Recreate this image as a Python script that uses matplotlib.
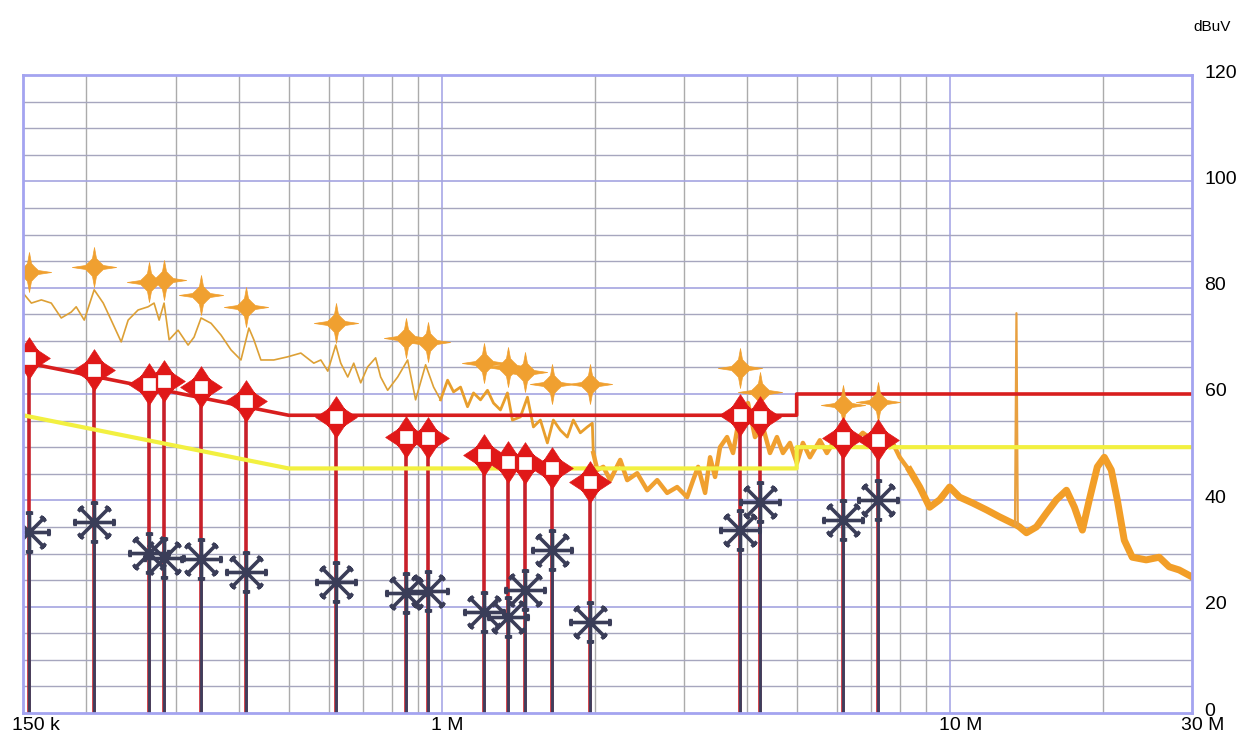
import numpy as np
import matplotlib
matplotlib.use("Agg")
import matplotlib.pyplot as plt
from matplotlib.path import Path
from matplotlib.ticker import NullLocator
from matplotlib.transforms import ScaledTranslation

plt.rcParams['font.family'] = ['Liberation Sans', 'DejaVu Sans']

# traço medido (frequência em MHz, nível em dBuV)
freq_trace = [
    0.150, 0.1558, 0.1630, 0.1705, 0.1784, 0.1866, 0.1909, 0.1980, 0.2071, 0.2158,
    0.2237, 0.2341, 0.2416, 0.2527, 0.2644, 0.2717, 0.2780, 0.2843, 0.2909, 0.3029,
    0.3170, 0.3257, 0.3362, 0.3518, 0.3679, 0.3850, 0.4028, 0.4176, 0.4271, 0.4409,
    0.4675, 0.4982, 0.5284, 0.5604, 0.5785, 0.5971, 0.6190, 0.6332, 0.6536, 0.6716,
    0.6932, 0.7154, 0.7416, 0.7587, 0.7832, 0.8196, 0.8574, 0.8889, 0.9302, 0.9645,
    0.9954, 1.0276, 1.0558, 1.0898, 1.1249, 1.1558, 1.1930, 1.2313, 1.2652, 1.3058,
    1.3479, 1.3787, 1.4295, 1.4757, 1.5161, 1.5649, 1.6153, 1.6596, 1.7131, 1.7682,
    1.8168, 1.8755, 1.9357, 1.9802, 1.9891, 2.0255, 2.0813, 2.1478, 2.2473, 2.3195,
    2.4270, 2.5394, 2.6573, 2.7797, 2.9087, 3.0432, 3.1270, 3.1984, 3.3015, 3.3769,
    3.4540, 3.5329, 3.6470, 3.7475, 3.8675, 4.0098, 4.1392, 4.2915, 4.4300, 4.5722,
    4.6980, 4.8500, 5.0050, 5.1430, 5.3088, 5.5545, 5.7328, 5.9979, 6.1631, 6.4475,
    6.7464, 7.0583, 7.2862, 7.6227, 7.7268, 7.9761, 8.2320, 8.3447, 8.7316, 9.1353,
    9.5589, 10.000, 10.462, 11.097, 11.822, 12.537, 13.297, 13.450, 13.538, 13.620,
    13.723, 14.166, 14.821, 15.508, 16.225, 16.982, 17.607, 18.255, 18.836, 19.534,
    20.160, 20.809, 21.383, 22.070, 22.884, 24.380, 25.857, 27.053, 28.308, 30.000,
]
level_trace = [
    79.0, 77.1, 77.7, 77.1, 74.3, 75.4, 76.4, 73.9, 79.6, 77.1,
    73.9, 69.8, 73.9, 75.8, 76.4, 77.1, 73.9, 77.1, 70.2, 72.0,
    69.2, 70.7, 74.3, 73.3, 71.1, 68.3, 66.4, 72.4, 70.2, 66.4,
    66.4, 67.0, 67.7, 65.8, 66.4, 64.3, 69.2, 65.8, 63.2, 65.8,
    62.1, 65.1, 66.8, 63.2, 60.7, 63.2, 66.4, 58.9, 65.5, 61.3,
    58.9, 62.6, 60.4, 61.3, 57.6, 60.2, 58.9, 60.7, 58.3, 57.0,
    60.2, 55.1, 55.7, 59.4, 53.8, 55.1, 50.8, 55.1, 53.2, 51.9,
    55.1, 52.7, 53.8, 54.5, 48.9, 45.7, 46.3, 43.8, 47.6, 43.8,
    45.1, 41.9, 43.8, 41.4, 42.5, 40.6, 43.8, 46.3, 41.4, 48.1,
    44.4, 50.0, 51.9, 48.9, 56.4, 58.3, 51.9, 53.8, 48.9, 51.9,
    48.9, 50.8, 47.0, 50.8, 48.1, 51.3, 48.9, 51.9, 53.2, 50.8,
    52.7, 51.3, 53.2, 50.0, 50.8, 48.1, 46.3, 45.7, 42.5, 38.7,
    40.1, 42.5, 40.6, 39.5, 38.2, 36.9, 35.7, 35.5, 75.2, 35.2,
    35.0, 33.9, 35.0, 37.6, 40.1, 41.9, 38.7, 34.4, 40.1, 46.3,
    48.1, 45.7, 40.1, 32.5, 29.3, 28.8, 29.3, 27.5, 26.9, 25.6,
]

# linhas limite
lim_freq = [0.15, 0.5, 5.0, 5.0, 30.0]
lim_qp = [66, 56, 56, 60, 60]
lim_av = [56, 46, 46, 50, 50]

# marcadores (pico, quase-pico, média)
freq_mk = [0.154, 0.207, 0.266, 0.284, 0.336, 0.412, 0.619, 0.850, 0.939,
           1.21, 1.35, 1.46, 1.65, 1.96, 3.87, 4.23, 6.16, 7.22]
peak_mk = [82.9, 83.9, 81.1, 81.4, 78.6, 76.4, 73.3, 70.5, 69.8,
           65.8, 65.1, 64.1, 61.9, 61.9, 64.9, 60.4, 57.9, 58.5]
qp_mk = [66.8, 64.6, 61.8, 62.5, 61.3, 58.6, 55.7, 51.9, 51.7,
         48.5, 47.2, 47.0, 46.1, 43.4, 56.0, 55.7, 51.7, 51.3]
av_mk = [34.0, 35.9, 30.1, 29.2, 29.0, 26.5, 24.6, 22.5, 23.0,
         19.0, 18.1, 23.1, 30.7, 17.1, 34.4, 39.7, 36.3, 40.1]

x_ticks = [0.15, 1, 10, 30]
x_labels = ["150 k", "1 M", "10 M", "30 M"]
y_ticks = [0, 20, 40, 60, 80, 100, 120]


# marcador estrela de 4 pontas
def star4():
    v = [(0, 0.9), (0.09, 0.4), (0.24, 0.24), (0.4, 0.09), (1, 0),
         (0.4, -0.09), (0.24, -0.24), (0.09, -0.4), (0, -0.9),
         (-0.09, -0.4), (-0.24, -0.24), (-0.4, -0.09), (-1, 0),
         (-0.4, 0.09), (-0.24, 0.24), (-0.09, 0.4), (0, 0.9)]
    return Path(v, closed=True)


# setas + quadrado do marcador de quase-pico
def arrows4():
    verts, codes = [], []
    for ang in [0, 90, 180, 270]:
        a = np.radians(ang)
        c, s = np.cos(a), np.sin(a)
        pts = [(1, 0), (0.36, 0.42), (0.36, -0.42), (1, 0)]
        for k, (px, py) in enumerate(pts):
            verts.append((px * c - py * s, px * s + py * c))
            codes.append(Path.MOVETO if k == 0 else (Path.CLOSEPOLY if k == 3 else Path.LINETO))
    sq = [(-0.4, -0.4), (0.4, -0.4), (0.4, 0.4), (-0.4, 0.4), (-0.4, -0.4)]
    verts += sq
    codes += [Path.MOVETO, Path.LINETO, Path.LINETO, Path.LINETO, Path.CLOSEPOLY]
    return Path(verts, codes)


# asterisco com barrinhas nas pontas
def asterisk8():
    verts, codes = [], []
    for k in range(8):
        a = np.radians(45 * k)
        c, s = np.cos(a), np.sin(a)
        verts += [(0, 0), (c, s)]
        codes += [Path.MOVETO, Path.LINETO]
        verts += [(0.9 * c - 0.17 * s, 0.9 * s + 0.17 * c), (0.9 * c + 0.17 * s, 0.9 * s - 0.17 * c)]
        codes += [Path.MOVETO, Path.LINETO]
    return Path(verts, codes)


fig = plt.figure(figsize=(12.4, 7.4), dpi=100)
ax = fig.add_axes([23 / 1240, 27 / 740, 1169 / 1240, 638 / 740])
ax.set_xscale('log')
ax.set_xlim(0.15, 30)
ax.set_ylim(0, 120)

# grade
for d in [0.1, 1, 10]:
    for m in range(1, 10):
        f = d * m
        if f <= 0.15 or f >= 30:
            continue
        if m == 1:
            ax.axvline(f, color='#A8A8E6', lw=1.2, zorder=0)
        else:
            ax.axvline(f, color='#ABABAB', lw=1.0, zorder=0)
for y in range(5, 120, 5):
    if y % 20 == 0:
        ax.axhline(y, color='#A4A4E0', lw=1.2, zorder=0)
    else:
        ax.axhline(y, color='#A6A6BE', lw=1.0, zorder=0)

# traço (mais grosso nas altas frequências, como no original)
ft = np.array(freq_trace)
lt = np.array(level_trace)
spike = lt > 70
spike &= ft > 10
a = ft <= 1.0
b = (ft >= 0.9954) & (ft <= 1.9891)
c = (ft >= 1.9891) & (ft <= 8.4)
d = (ft >= 8.3) & ~spike
ax.plot(ft[a], lt[a], color='#DDA035', lw=1.2, zorder=2)
ax.plot(ft[b], lt[b], color='#E89E2C', lw=2.0, zorder=2)
ax.plot(ft[c], lt[c], color='#F0A030', lw=3.2, zorder=2)
ax.plot(ft[d], lt[d], color='#F29E28', lw=5.0, zorder=2)
i = np.where(spike)[0][0]
ax.plot(ft[i - 1:i + 2], lt[i - 1:i + 2], color='#E8A040', lw=1.6, zorder=2)

# linhas verticais dos marcadores
ax.vlines(freq_mk, 0, qp_mk, colors='#C8202A', lw=2.6, zorder=3)
ax.vlines(freq_mk, 0, av_mk, colors='#3C3F5E', lw=2.0, zorder=3)

# limites
ax.plot(lim_freq, lim_av, color='#F2F040', lw=3, zorder=4)
ax.plot(lim_freq, lim_qp, color='#D81E1E', lw=2.6, zorder=4)

# marcadores
ax.plot(freq_mk, peak_mk, ls='none', marker=star4(), ms=32, color='#F0A030', mec='#F0A030', mew=0.5, zorder=6)
ax.plot(freq_mk, qp_mk, ls='none', marker=arrows4(), ms=30, color='#E01818', mec='#E01818', mew=0.5, zorder=6)
ax.plot(freq_mk, qp_mk, ls='none', marker='s', ms=8.5, mfc='white', mec='white', mew=0.5, zorder=7)
ax.plot(freq_mk, av_mk, ls='none', marker=asterisk8(), ms=31, mfc='none', mec='#3A3D58', mew=2.6, zorder=6)

# eixos
for sp in ax.spines.values():
    sp.set_color('#A4A4F0')
    sp.set_linewidth(2)
    sp.set_zorder(8)

ax.xaxis.set_minor_locator(NullLocator())
ax.set_xticks(x_ticks)
ax.set_xticklabels(x_labels, fontsize=14)
ax.tick_params(axis='x', length=0, pad=3)
for lbl in ax.get_xticklabels():
    lbl.set_ha('left')
    lbl.set_transform(lbl.get_transform() + ScaledTranslation(-0.11, 0, fig.dpi_scale_trans))

ax.yaxis.tick_right()
ax.set_yticks(y_ticks)
ax.set_yticklabels([str(v) for v in y_ticks], fontsize=14)
ax.tick_params(axis='y', length=0, pad=9)
for lbl in ax.get_yticklabels():
    lbl.set_transform(lbl.get_transform() + ScaledTranslation(0, 0.04, fig.dpi_scale_trans))

fig.text(1193 / 1240, 1 - 27 / 740, "dBuV", fontsize=11, ha='left', va='center')

fig.savefig('out.png', dpi=100)
